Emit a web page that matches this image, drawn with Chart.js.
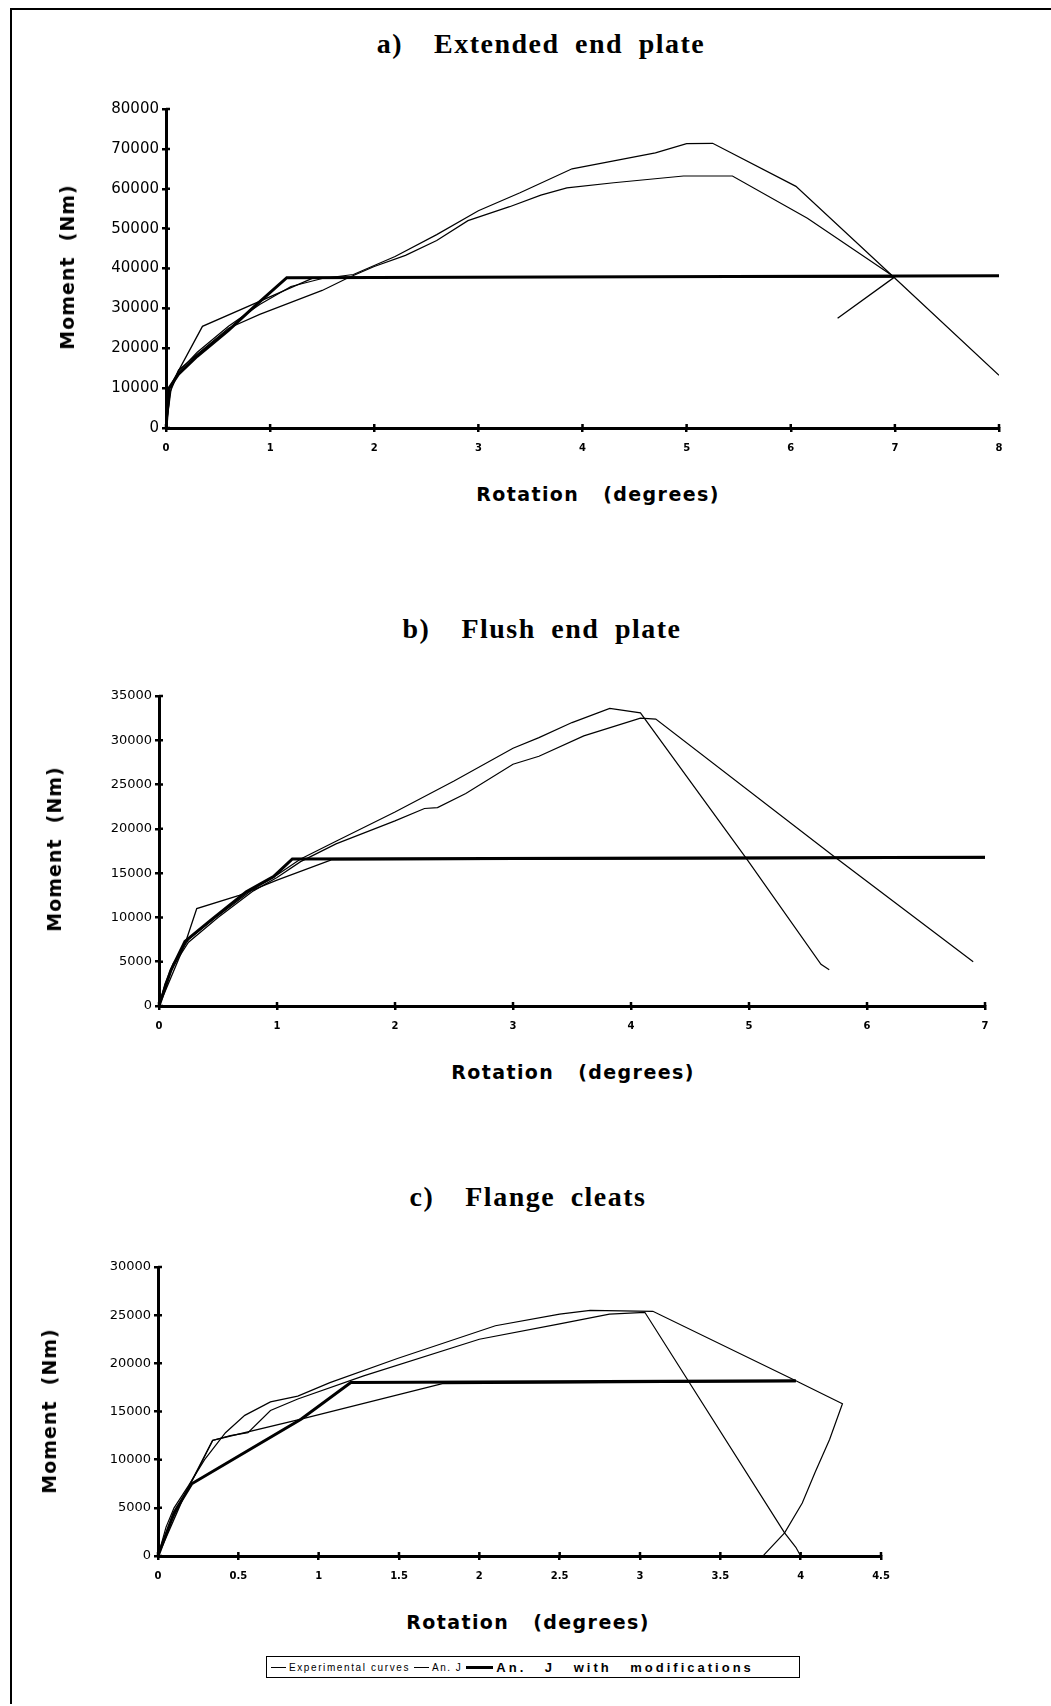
<!DOCTYPE html>
<html>
<head>
<meta charset="utf-8">
<script src="https://cdn.jsdelivr.net/npm/chart.js@4.4.1/dist/chart.umd.min.js"></script>
<style>
  body { margin: 0; background: #fff; }
  #page { position: relative; width: 1051px; height: 1706px; overflow: hidden; background: #fff; }
  #frame { position: absolute; left: 10px; top: 8px; width: 1041px; height: 1694px; border-top: 2px solid #000; border-left: 2px solid #000; }
  canvas { position: absolute; left: 0; }
  .lbl { position: absolute; transform: translate(-50%, -50%); white-space: pre; color: #000; }
  .head { font: bold 28px "Liberation Serif", serif; letter-spacing: 1.5px; word-spacing: 7px; }
  .xt { font: bold 19px "DejaVu Sans", sans-serif; letter-spacing: 1.4px; }
  .yt { font: bold 19px "DejaVu Sans", sans-serif; letter-spacing: 1px; transform: translate(-50%, -50%) rotate(-90deg); }
  #legend { position: absolute; left: 266px; top: 1656px; width: 532px; height: 20px; border: 1px solid #000;
            display: flex; align-items: center; font: 10px "Liberation Sans", sans-serif; white-space: nowrap; }
  #legend span.ln { display: inline-block; width: 15px; border-top: 1px solid #000; vertical-align: middle; margin: 0 3px 0 4px; }
  #legend span.thick { width: 27px; border-top: 3px solid #000; }
  #legend .t1 { letter-spacing: 1.6px; }
  #legend .t2 { letter-spacing: 1.5px; }
  #legend .t3 { font-size: 13px; letter-spacing: 3px; word-spacing: 12px; font-weight: bold; }
</style>
</head>
<body>
<div id="page">
  <div id="frame"></div>

  <div class="lbl head" style="left:541px; top:44px;">a)  Extended end plate</div>
  <canvas id="chartA" width="1051" height="380" style="top:90px"></canvas>
  <div class="lbl yt" style="left:67px; top:267px;">Moment  (Nm)</div>
  <div class="lbl xt" style="left:598px; top:494px;">Rotation   (degrees)</div>

  <div class="lbl head" style="left:542px; top:629px;">b)  Flush end plate</div>
  <canvas id="chartB" width="1051" height="370" style="top:680px"></canvas>
  <div class="lbl yt" style="left:54px; top:849px;">Moment  (Nm)</div>
  <div class="lbl xt" style="left:573px; top:1072px;">Rotation   (degrees)</div>

  <div class="lbl head" style="left:528px; top:1197px;">c)  Flange cleats</div>
  <canvas id="chartC" width="1051" height="350" style="top:1250px"></canvas>
  <div class="lbl yt" style="left:49px; top:1411px;">Moment  (Nm)</div>
  <div class="lbl xt" style="left:528px; top:1622px;">Rotation   (degrees)</div>

  <div id="legend">
    <span class="ln"></span><span class="t1">Experimental curves</span>
    <span class="ln"></span><span class="t2">An. J</span>
    <span class="ln thick"></span><span class="t3">An. J with modifications</span>
  </div>
</div>

<script>
// a) extended end plate  [rotation (deg), moment (Nm)]
const aExpUpper = [[0,0],[0.04,9000],[0.12,14000],[0.3,19000],[0.6,25500],[0.9,31000],[1.2,35500],[1.5,37500],[1.8,38500],[2.2,43000],[2.6,48500],[3.0,54500],[3.4,59000],[3.9,65000],[4.3,67000],[4.7,69000],[5.0,71300],[5.25,71400],[6.05,60600],[6.97,38300],[8.0,13200]];
const aExpLower = [[0,0],[0.05,10000],[0.12,14500],[0.3,18500],[0.6,25000],[0.9,28500],[1.2,31500],[1.5,34500],[1.75,37700],[2.0,40500],[2.3,43300],[2.6,47000],[2.9,52000],[3.3,55500],[3.6,58400],[3.85,60200],[4.3,61500],[4.97,63200],[5.44,63200],[6.16,52600],[6.97,38300]];
const aAnJ = [[0,0],[0.03,10000],[0.35,25500],[1.42,37700],[7.0,37900],[6.45,27500]];
const aAnJMod = [[0,0],[0.03,10000],[0.12,13500],[0.3,18000],[0.6,24500],[0.85,30500],[1.16,37700],[8,38200]];

// b) flush end plate
const bExpUpper = [[0,0],[0.05,2500],[0.12,4800],[0.25,7500],[0.5,10200],[0.8,13200],[1.0,14800],[1.2,16600],[1.5,18600],[2.0,21900],[2.5,25400],[3.0,29100],[3.22,30300],[3.5,32000],[3.82,33600],[4.08,33100],[4.98,16600],[5.61,4700],[5.68,4100]];
const bExpLower = [[0,0],[0.05,2300],[0.12,4500],[0.25,7200],[0.5,10000],[0.8,13000],[1.0,14500],[1.2,16300],[1.5,18300],[2.0,20900],[2.25,22300],[2.36,22400],[2.6,24000],[3.0,27300],[3.22,28200],[3.6,30500],[4.08,32500],[4.21,32400],[5.71,17000],[6.9,5000]];
const bAnJ = [[0,0],[0.22,7000],[0.32,11000],[0.68,12500],[1.0,14200],[1.46,16500],[7,16700]];
const bAnJMod = [[0,0],[0.1,4000],[0.22,7300],[0.45,9800],[0.74,12900],[0.97,14600],[1.13,16600],[7,16800]];

// c) flange cleats
const cExpUpper = [[0,0],[0.05,3000],[0.1,5000],[0.19,7300],[0.29,10000],[0.42,12800],[0.54,14600],[0.7,16000],[0.87,16600],[1.07,18000],[1.49,20500],[2.1,23900],[2.5,25100],[2.69,25500],[3.08,25400],[3.97,18200],[4.26,15800],[4.18,12100],[4.09,8700],[4.01,5500],[3.9,2400],[3.77,100]];
const cExpLower = [[0,0],[0.08,3500],[0.17,6500],[0.25,9000],[0.34,12000],[0.45,12500],[0.56,12800],[0.7,15100],[0.87,16300],[1.28,18700],[2.0,22500],[2.5,24100],[2.81,25100],[3.03,25300],[3.9,2400],[3.97,900],[4.0,0]];
const cAnJ = [[0,0],[0.17,6500],[0.34,12000],[0.89,14200],[1.77,17900],[3.97,18100]];
const cAnJMod = [[0,0],[0.1,4500],[0.21,7500],[0.89,14200],[1.2,18000],[3.97,18200]];

const toPts = arr => arr.map(p => ({ x: p[0], y: p[1] }));

function lineSet(label, arr, width) {
    return {
        label: label,
        data: toPts(arr),
        borderColor: '#000',
        borderWidth: width,
        pointRadius: 0,
        tension: 0,
        fill: false
    };
}

// short marks on the inner side of both axes, so the ticks cross the axis like in the scan
const crossTicks = {
    id: 'crossTicks',
    afterDatasetsDraw(chart) {
        const { ctx, scales: { x, y } } = chart;
        ctx.save();
        ctx.strokeStyle = '#000';
        ctx.lineWidth = 2.5;
        ctx.beginPath();
        x.ticks.forEach(t => {
            const px = x.getPixelForValue(t.value);
            ctx.moveTo(px, y.bottom - 4);
            ctx.lineTo(px, y.bottom);
        });
        y.ticks.forEach(t => {
            const py = y.getPixelForValue(t.value);
            ctx.moveTo(x.left, py);
            ctx.lineTo(x.left + 4, py);
        });
        ctx.stroke();
        ctx.restore();
    }
};

function makeChart(id, o) {
    const ctx = document.getElementById(id).getContext('2d');
    return new Chart(ctx, {
        type: 'line',
        data: {
            datasets: [
                lineSet('An. J with modifications', o.mod, 3),
                lineSet('An. J', o.anj, 1.3),
                lineSet('Experimental curves', o.exp1, 1.2),
                lineSet('Experimental curves', o.exp2, 1.2)
            ]
        },
        plugins: [crossTicks],
        options: {
            responsive: false,
            animation: false,
            devicePixelRatio: 1,
            layout: { padding: { top: o.padTop, right: o.padRight, left: 0, bottom: 0 } },
            plugins: { legend: { display: false }, tooltip: { enabled: false } },
            scales: {
                x: {
                    type: 'linear', min: 0, max: o.xMax,
                    ticks: { stepSize: o.xStep, color: '#000', padding: 10,
                             font: { family: 'DejaVu Sans', size: 10, weight: 'bold' },
                             callback: v => String(v) },
                    grid: { drawOnChartArea: false, color: '#000', lineWidth: 2.5, tickLength: 4 },
                    border: { color: '#000', width: 3 },
                    afterFit: s => { s.height = o.xHeight; }
                },
                y: {
                    min: 0, max: o.yMax,
                    ticks: { stepSize: o.yStep, color: '#000', padding: 3,
                             font: { family: 'DejaVu Sans', size: o.yFont },
                             callback: v => String(v) },
                    grid: { drawOnChartArea: false, color: '#000', lineWidth: 2.5, tickLength: 4 },
                    border: { color: '#000', width: 3 },
                    afterFit: s => { s.width = o.yWidth; }
                }
            }
        }
    });
}

makeChart('chartA', { exp1: aExpUpper, exp2: aExpLower, anj: aAnJ, mod: aAnJMod,
    xMax: 8, xStep: 1, yMax: 80000, yStep: 10000, yWidth: 166, xHeight: 42,
    padTop: 19, padRight: 52, yFont: 15 });
makeChart('chartB', { exp1: bExpUpper, exp2: bExpLower, anj: bAnJ, mod: bAnJMod,
    xMax: 7, xStep: 1, yMax: 35000, yStep: 5000, yWidth: 159, xHeight: 44,
    padTop: 16, padRight: 66, yFont: 13 });
makeChart('chartC', { exp1: cExpUpper, exp2: cExpLower, anj: cAnJ, mod: cAnJMod,
    xMax: 4.5, xStep: 0.5, yMax: 30000, yStep: 5000, yWidth: 158, xHeight: 44,
    padTop: 17, padRight: 170, yFont: 13 });
</script>
</body>
</html>
